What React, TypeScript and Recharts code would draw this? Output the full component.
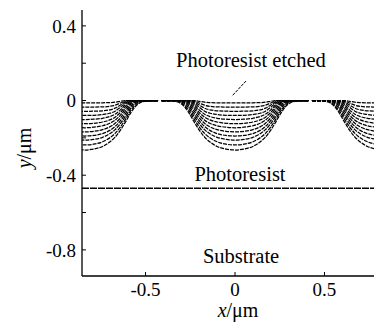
import React from "react";
import { LineChart, Line, XAxis, YAxis, ReferenceLine, ReferenceDot } from "recharts";

// Distance from dip centre (µm) at which each etch profile is sampled
const profileU = [0, 0.05, 0.1, 0.14, 0.17, 0.2, 0.23, 0.26, 0.29, 0.32, 0.36, 0.41];

// Etch-front depth (µm) for successive time steps, read at profileU
const etch1 = [-0.012, -0.012, -0.012, -0.011, -0.009, -0.004, 0, 0, 0, 0, 0, 0];
const etch2 = [-0.035, -0.035, -0.034, -0.031, -0.025, -0.013, -0.002, 0, 0, 0, 0, 0];
const etch3 = [-0.058, -0.057, -0.055, -0.05, -0.041, -0.024, -0.006, 0, 0, 0, 0, 0];
const etch4 = [-0.08, -0.079, -0.075, -0.068, -0.057, -0.036, -0.012, -0.001, 0, 0, 0, 0];
const etch5 = [-0.102, -0.1, -0.095, -0.086, -0.073, -0.05, -0.02, -0.003, 0, 0, 0, 0];
const etch6 = [-0.124, -0.122, -0.115, -0.104, -0.089, -0.064, -0.03, -0.007, 0, 0, 0, 0];
const etch7 = [-0.146, -0.143, -0.135, -0.122, -0.105, -0.078, -0.041, -0.012, -0.002, 0, 0, 0];
const etch8 = [-0.168, -0.165, -0.156, -0.141, -0.122, -0.093, -0.054, -0.019, -0.004, 0, 0, 0];
const etch9 = [-0.19, -0.187, -0.177, -0.16, -0.139, -0.108, -0.068, -0.028, -0.007, -0.001, 0, 0];
const etch10 = [-0.212, -0.208, -0.197, -0.178, -0.156, -0.123, -0.082, -0.038, -0.012, -0.003, 0, 0];
const etch11 = [-0.238, -0.234, -0.221, -0.2, -0.176, -0.141, -0.097, -0.05, -0.018, -0.005, -0.001, 0];
const etch12 = [-0.265, -0.26, -0.246, -0.222, -0.196, -0.158, -0.112, -0.062, -0.025, -0.008, -0.002, 0];
const etchProfiles = [etch1, etch2, etch3, etch4, etch5, etch6, etch7, etch8, etch9, etch10, etch11, etch12];

// Centres of the etched grooves (µm)
const dipCenters = [-0.84, 0, 0.84];

// Photoresist / substrate interface (µm)
const photoresistLevel = -0.47;

// Axis ticks
const xTicks = [-0.5, 0, 0.5];
const xTickLabels = ["-0.5", "0", "0.5"];
const yTicks = [0.4, 0.2, 0, -0.2, -0.4, -0.6, -0.8];
const yTickLabels = ["0.4", "", "0", "", "-0.4", "", "-0.8"];

const xDomain: [number, number] = [-0.855, 0.855];
const yDomain: [number, number] = [-0.94, 0.485];

// Annotations
const etchedLabel = { x: 0.089, y: 0.2185, text: "Photoresist etched" };
const etchedPointer = [
  { x: 0.061, y: 0.104 },
  { x: -0.017, y: 0.024 },
];
const resistLabel = { x: 0.028, y: -0.392, text: "Photoresist" };
const substrateLabel = { x: 0.034, y: -0.831, text: "Substrate" };

type Pt = { x: number; y: number | null };

function buildCurve(profile: number[]): Pt[] {
  const pts: Pt[] = [];
  dipCenters.forEach((c, i) => {
    if (i > 0) pts.push({ x: (dipCenters[i - 1] + c) / 2, y: null });
    for (let j = profileU.length - 1; j > 0; j--) pts.push({ x: c - profileU[j], y: profile[j] });
    for (let j = 0; j < profileU.length; j++) pts.push({ x: c + profileU[j], y: profile[j] });
  });
  return pts;
}

const curves = etchProfiles.map(buildCurve);

const SERIF = "Liberation Serif";

const XTitle = (props: any) => {
  const vb = props.viewBox || {};
  return (
    <text
      x={vb.x + vb.width / 2 + 3}
      y={vb.y + 41}
      textAnchor="middle"
      fontSize={20}
      fontFamily={SERIF}
      fill="#000"
      style={{ fontFamily: SERIF }}
    >
      <tspan fontStyle="italic" fontFamily={SERIF}>x</tspan>
      <tspan fontFamily={SERIF}>/μm</tspan>
    </text>
  );
};

const YTitle = (props: any) => {
  const vb = props.viewBox || {};
  const cx = vb.x + 6;
  const cy = vb.y + vb.height / 2 + 5;
  return (
    <text
      x={cx}
      y={cy}
      transform={`rotate(-90 ${cx} ${cy})`}
      textAnchor="middle"
      dominantBaseline="central"
      fontSize={20}
      fontFamily={SERIF}
      fill="#000"
      style={{ fontFamily: SERIF }}
    >
      <tspan fontStyle="italic" fontFamily={SERIF}>y</tspan>
      <tspan fontFamily={SERIF}>/μm</tspan>
    </text>
  );
};

const XTick = (props: any) => {
  const label = xTickLabels[xTicks.indexOf(props.payload?.value)] ?? "";
  return (
    <text
      x={props.x}
      y={props.y}
      dy="0.71em"
      textAnchor="middle"
      fontSize={19}
      fontFamily={SERIF}
      fill="#000"
      style={{ fontFamily: SERIF }}
    >
      {label}
    </text>
  );
};

const YTick = (props: any) => {
  const label = yTickLabels[yTicks.indexOf(props.payload?.value)] ?? "";
  return (
    <text
      x={props.x}
      y={props.y}
      dy="0.355em"
      textAnchor="end"
      fontSize={19}
      fontFamily={SERIF}
      fill="#000"
      style={{ fontFamily: SERIF }}
    >
      {label}
    </text>
  );
};

const annotStyle = { fontFamily: SERIF, fontSize: 20.5, fill: "#000" };

export default function App() {
  return (
    <div style={{ width: 374, height: 315, overflow: "hidden" }}>
      <LineChart width={390} height={315} margin={{ top: 2, right: 10, bottom: 0, left: 10 }}>
        <XAxis
          xAxisId="bottom"
          dataKey="x"
          type="number"
          domain={xDomain}
          allowDataOverflow
          ticks={xTicks}
          tick={<XTick />}
          tickSize={-4}
          tickMargin={11}
          height={47}
          axisLine={{ stroke: "#000", strokeWidth: 1.3 }}
          tickLine={{ stroke: "#000" }}
          label={<XTitle />}
        />
        <XAxis
          xAxisId="top"
          orientation="top"
          dataKey="x"
          type="number"
          domain={xDomain}
          allowDataOverflow
          ticks={xTicks}
          tickFormatter={() => ""}
          tickSize={-4}
          height={0}
          axisLine={{ stroke: "#000", strokeWidth: 1.3 }}
          tickLine={{ stroke: "#000" }}
        />
        <YAxis
          yAxisId="left"
          type="number"
          domain={yDomain}
          allowDataOverflow
          ticks={yTicks}
          tick={<YTick />}
          tickSize={-4}
          tickMargin={10}
          width={64}
          axisLine={{ stroke: "#000", strokeWidth: 1.3 }}
          tickLine={{ stroke: "#000" }}
          label={<YTitle />}
        />
        <ReferenceLine
          xAxisId="bottom"
          yAxisId="left"
          y={photoresistLevel}
          stroke="#000"
          strokeWidth={1.4}
          strokeDasharray="7 1"
        />
        <ReferenceLine
          xAxisId="bottom"
          yAxisId="left"
          segment={etchedPointer}
          stroke="#000"
          strokeWidth={1}
          strokeDasharray="3 1"
        />
        {curves.map((data, i) => (
          <Line
            key={i}
            xAxisId="bottom"
            yAxisId="left"
            data={data}
            dataKey="y"
            type="monotone"
            stroke="#000"
            strokeWidth={1.25}
            strokeDasharray="4 1"
            dot={false}
            activeDot={false}
            isAnimationActive={false}
          />
        ))}
        {[etchedLabel, resistLabel, substrateLabel].map((l, i) => (
          <ReferenceDot
            key={"l" + i}
            xAxisId="bottom"
            yAxisId="left"
            x={l.x}
            y={l.y}
            r={0.1}
            fill="none"
            stroke="none"
            label={{ value: l.text, position: "center", style: annotStyle }}
          />
        ))}
      </LineChart>
    </div>
  );
}
